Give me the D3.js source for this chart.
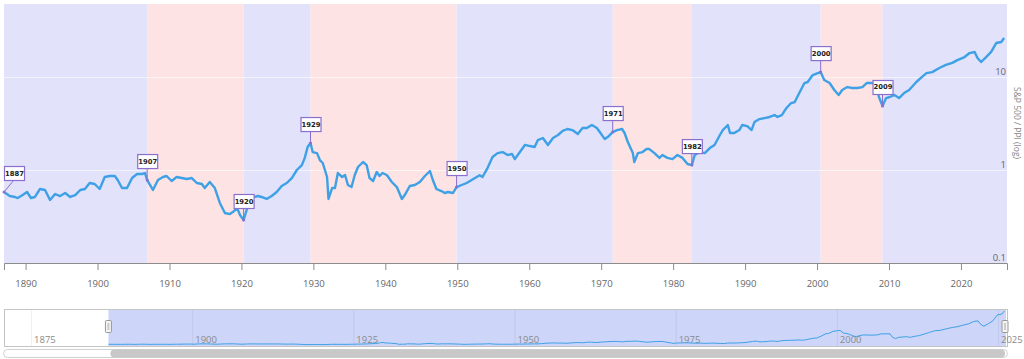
<!DOCTYPE html>
<html>
<head>
<meta charset="utf-8">
<script src="https://cdn.jsdelivr.net/npm/d3@7"></script>
<style>
body { margin: 0; background: #fff; }
svg text { font-family: "Open Sans", sans-serif; }
</style>
</head>
<body>
<div id="chart"></div>
<script>

// S&P 500 / PPI [year, value]
var priceData = [
    [1887.0,0.58],[1887.8,0.525],[1888.5,0.513],[1888.9,0.50],[1889.6,0.538],[1890.2,0.58],[1890.75,0.50],[1891.3,0.513],
    [1892.0,0.625],[1892.7,0.61],[1893.4,0.476],[1894.1,0.552],[1894.8,0.525],[1895.5,0.566],[1896.2,0.513],[1896.9,0.538],
    [1897.6,0.61],[1898.25,0.625],[1898.9,0.725],[1899.6,0.707],[1900.3,0.625],[1901.0,0.841],[1901.7,0.862],[1902.4,0.862],
    [1902.8,0.781],[1903.4,0.64],[1904.1,0.64],[1904.8,0.82],[1905.5,0.906],[1906.2,0.906],[1906.6,0.928],[1906.9,0.78],
    [1907.7,0.61],[1908.4,0.781],[1909.1,0.841],[1909.6,0.862],[1910.3,0.762],[1911.0,0.841],[1911.7,0.82],[1912.4,0.80],
    [1913.1,0.82],[1913.8,0.725],[1914.5,0.707],[1914.9,0.64],[1915.6,0.743],[1916.3,0.64],[1917.0,0.442],[1917.7,0.345],
    [1918.4,0.336],[1918.8,0.353],[1919.4,0.39],[1919.8,0.328],[1920.3,0.29],[1920.9,0.41],[1921.6,0.51],[1922.3,0.525],
    [1922.8,0.513],[1923.5,0.488],[1924.2,0.525],[1924.9,0.58],[1925.6,0.673],[1926.3,0.725],[1927.0,0.82],[1927.7,1.0],
    [1928.4,1.13],[1928.8,1.35],[1929.2,1.77],[1929.6,1.95],[1929.9,1.56],[1930.5,1.52],[1930.9,1.28],[1931.3,1.19],
    [1931.9,0.841],[1932.1,0.488],[1932.6,0.64],[1933.0,0.64],[1933.4,0.928],[1934.0,0.841],[1934.4,0.884],[1934.8,0.69],
    [1935.3,0.656],[1935.75,0.884],[1936.2,1.077],[1936.9,1.22],[1937.4,1.13],[1937.8,0.82],[1938.3,0.762],[1938.8,0.952],
    [1939.2,0.862],[1939.6,0.928],[1940.2,0.884],[1940.9,0.743],[1941.6,0.656],[1942.3,0.488],[1942.7,0.538],[1943.4,0.673],
    [1944.1,0.69],[1944.8,0.743],[1945.5,0.862],[1946.2,0.976],[1946.6,0.781],[1947.1,0.625],[1947.8,0.594],[1948.25,0.566],
    [1948.7,0.58],[1949.4,0.566],[1949.9,0.656],[1950.6,0.69],[1951.3,0.725],[1952.0,0.781],[1952.7,0.841],[1953.1,0.88],
    [1953.5,0.841],[1954.2,1.05],[1954.9,1.38],[1955.6,1.52],[1956.3,1.56],[1957.0,1.45],[1957.6,1.49],[1958.0,1.31],
    [1958.7,1.56],[1959.4,1.86],[1960.1,1.81],[1960.75,1.77],[1961.2,2.10],[1961.9,2.21],[1962.6,1.86],[1963.3,2.21],
    [1964.0,2.38],[1964.65,2.63],[1965.3,2.76],[1966.0,2.69],[1966.75,2.44],[1967.4,2.83],[1968.0,2.83],[1968.7,3.05],
    [1969.4,2.83],[1969.8,2.56],[1970.5,2.15],[1970.9,2.26],[1971.6,2.56],[1972.2,2.69],[1972.9,2.76],[1973.25,2.50],
    [1973.7,2.0],[1974.4,1.52],[1974.6,1.22],[1975.1,1.52],[1975.75,1.56],[1976.3,1.68],[1976.7,1.68],[1977.4,1.52],
    [1978.1,1.35],[1978.5,1.45],[1979.2,1.35],[1979.9,1.31],[1980.6,1.45],[1981.3,1.35],[1982.0,1.16],[1982.6,1.13],
    [1983.0,1.45],[1983.7,1.56],[1984.4,1.52],[1985.1,1.72],[1985.75,1.86],[1986.5,2.38],[1986.9,2.69],[1987.6,3.05],
    [1987.9,2.50],[1988.5,2.50],[1989.2,2.69],[1989.6,3.05],[1990.3,2.97],[1990.9,2.69],[1991.3,3.28],[1992.0,3.53],
    [1992.7,3.62],[1993.4,3.72],[1994.1,3.90],[1994.5,3.72],[1995.1,3.90],[1995.75,4.64],[1996.4,5.25],[1996.9,5.38],
    [1997.6,6.90],[1998.25,8.62],[1998.7,8.84],[1999.4,10.5],[2000.1,11.0],[2000.5,11.3],[2001.0,9.29],[2001.75,8.62],
    [2002.4,7.25],[2003.0,6.40],[2003.5,7.25],[2004.2,7.80],[2004.9,7.62],[2005.6,7.62],[2006.3,7.80],[2006.9,8.62],
    [2007.6,8.62],[2008.25,8.62],[2008.6,6.10],[2009.1,4.88],[2009.6,5.94],[2010.1,6.10],[2010.75,6.40],[2011.4,5.94],
    [2012.1,6.73],[2012.8,7.25],[2013.8,8.84],[2014.4,9.75],[2015.2,11.0],[2016.0,11.3],[2017.0,12.5],[2017.9,13.5],
    [2018.8,14.2],[2019.5,15.2],[2020.5,16.4],[2021.2,18.1],[2021.9,18.6],[2022.3,16.0],[2022.8,14.5],[2023.5,16.4],
    [2024.2,18.6],[2024.9,23.2],[2025.6,23.8],[2026.0,26.3]
];

// turning points (flags) and band types between them
var flagDates = [1887.0, 1906.9, 1920.3, 1929.6, 1949.9, 1971.6, 1982.6, 2000.5, 2009.1];
var flagLabels = ["1887", "1907", "1920", "1929", "1950", "1971", "1982", "2000", "2009"];
var bandTypes = ["bull", "bear", "bull", "bear", "bull", "bear", "bull", "bear", "bull"];

// ticks
var xTicks = [1890, 1900, 1910, 1920, 1930, 1940, 1950, 1960, 1970, 1980, 1990, 2000, 2010, 2020];
var yTicks = [0.1, 1, 10];
var navTicks = [1875, 1900, 1925, 1950, 1975, 2000, 2025];

// init size
var width = 1024;
var height = 359;
var plotLeft = 4, plotRight = 1007, plotTop = 4, plotBottom = 263;
var navTop = 309, navBottom = 346;
var endDate = 2026.4;

// init scales
var x = d3.scaleLinear()
    .domain([1887, endDate])
    .range([plotLeft, plotRight]);

var y = d3.scaleLog()
    .domain([0.1, 61])
    .range([plotBottom, plotTop]);

var navX = d3.scaleLinear()
    .domain([1870.8, endDate])
    .range([plotLeft, plotRight]);

var navY = d3.scaleLinear()
    .domain([0, 27])
    .range([navBottom - 1, navTop + 1]);

var bandColor = { bull: "#e2e2fb", bear: "#fde3e3" };
var lineColor = "#3ea1e6";
var flagColor = "#8a6fcf";

// init svg
var svg = d3.select("#chart")
    .append("svg")
    .attr("width", width)
    .attr("height", height);

svg.append("defs").append("clipPath")
    .attr("id", "plot-clip")
    .append("rect")
    .attr("x", plotLeft)
    .attr("y", plotTop)
    .attr("width", plotRight - plotLeft)
    .attr("height", plotBottom - plotTop);

// background bands
var bandEdges = flagDates.concat([endDate]);
var bands = svg.append("g").attr("class", "bands");

bands.selectAll("rect")
    .data(bandTypes)
    .enter().append("rect")
    .attr("x", (d, i) => x(bandEdges[i]))
    .attr("y", plotTop)
    .attr("width", (d, i) => x(bandEdges[i+1]) - x(bandEdges[i]))
    .attr("height", plotBottom - plotTop)
    .attr("fill", d => bandColor[d]);

// grid lines
svg.append("g")
    .selectAll("line")
    .data(yTicks.slice(1))
    .enter().append("line")
    .attr("x1", plotLeft)
    .attr("x2", plotRight)
    .attr("y1", d => y(d) + 0.5)
    .attr("y2", d => y(d) + 0.5)
    .attr("stroke", "#ffffff")
    .attr("stroke-opacity", 0.6);

// main line
svg.append("path")
    .datum(priceData)
    .attr("clip-path", "url(#plot-clip)")
    .attr("fill", "none")
    .attr("stroke", lineColor)
    .attr("stroke-width", 2.4)
    .attr("stroke-linejoin", "round")
    .attr("d", d3.line().x(d => x(d[0])).y(d => y(d[1])));

// x axis
var xAxis = svg.append("g")
    .attr("transform", "translate(0," + plotBottom + ")")
    .call(d3.axisBottom(x)
        .tickValues(xTicks)
        .tickFormat(d3.format("d"))
        .tickSize(7)
        .tickPadding(10));

xAxis.select(".domain").attr("stroke", "#8c8c8c");
xAxis.selectAll(".tick line").attr("stroke", "#8c8c8c");
xAxis.selectAll(".tick text")
    .attr("fill", "#666")
    .style("font-size", "9.5px");

// y axis labels (inside, right)
svg.append("g")
    .selectAll("text")
    .data(yTicks)
    .enter().append("text")
    .attr("x", plotRight - 1)
    .attr("y", d => y(d) - 2)
    .attr("text-anchor", "end")
    .attr("fill", "#666")
    .style("font-size", "9.5px")
    .text(d => d);

svg.append("text")
    .attr("transform", "translate(1016,123) rotate(90)")
    .attr("text-anchor", "middle")
    .attr("dominant-baseline", "middle")
    .attr("fill", "#888")
    .style("font-size", "8.5px")
    .text("S&P 500 / PPI (log)");

// flags
var nearest = d3.bisector(d => d[0]).center;

var flags = svg.append("g")
    .attr("class", "flags")
    .selectAll("g")
    .data(flagDates)
    .enter().append("g");

flags.each(function(date, i) {
    var point = priceData[nearest(priceData, date)];
    var px = x(point[0]);
    var py = y(point[1]);
    var bw = 20, bh = 14;
    var bx = Math.max(plotLeft, px - bw/2);
    var by = py - 12 - bh;
    var g = d3.select(this);

    g.append("line")
        .attr("x1", bx + bw/2)
        .attr("y1", by + bh)
        .attr("x2", px)
        .attr("y2", py)
        .attr("stroke", flagColor)
        .attr("stroke-width", 1);

    g.append("circle")
        .attr("cx", px)
        .attr("cy", py)
        .attr("r", 1.5)
        .attr("fill", flagColor);

    g.append("rect")
        .attr("x", bx + 0.5)
        .attr("y", by + 0.5)
        .attr("width", bw)
        .attr("height", bh)
        .attr("fill", "#fff")
        .attr("stroke", flagColor)
        .attr("stroke-width", 1.2);

    g.append("text")
        .attr("x", bx + bw/2 + 0.5)
        .attr("y", by + bh/2 + 0.5)
        .attr("text-anchor", "middle")
        .attr("dominant-baseline", "central")
        .attr("fill", "#222")
        .style("font-family", "'DejaVu Sans', sans-serif")
        .style("font-weight", "bold")
        .style("font-size", "6.8px")
        .text(flagLabels[i]);
});

// navigator
var nav = svg.append("g").attr("class", "navigator");

nav.append("rect")
    .attr("x", plotLeft + 0.5)
    .attr("y", navTop + 0.5)
    .attr("width", plotRight - plotLeft)
    .attr("height", navBottom - navTop)
    .attr("fill", "#fff")
    .attr("stroke", "#c4c4c4");

nav.append("rect")
    .attr("x", navX(1887))
    .attr("y", navTop + 1)
    .attr("width", navX(endDate) - navX(1887) - 1)
    .attr("height", navBottom - navTop - 1)
    .attr("fill", "#cdd5f8");

nav.selectAll("line.grid")
    .data(navTicks)
    .enter().append("line")
    .attr("class", "grid")
    .attr("x1", d => navX(d) + 0.5)
    .attr("x2", d => navX(d) + 0.5)
    .attr("y1", navTop + 1)
    .attr("y2", navBottom)
    .attr("stroke", "#000")
    .attr("stroke-opacity", 0.06);

nav.selectAll("text")
    .data(navTicks)
    .enter().append("text")
    .attr("x", d => navX(d) + 3)
    .attr("y", navBottom - 3)
    .attr("fill", "#8a8a8a")
    .style("font-size", "9.5px")
    .text(d => d);

nav.append("path")
    .datum(priceData)
    .attr("fill", "none")
    .attr("stroke", lineColor)
    .attr("stroke-width", 1)
    .attr("d", d3.line().x(d => navX(d[0])).y(d => navY(d[1])));

// grips
[navX(1887), navX(endDate) - 2].forEach(function(gx) {
    nav.append("rect")
        .attr("x", gx - 3)
        .attr("y", 320.5)
        .attr("width", 6)
        .attr("height", 12)
        .attr("rx", 1)
        .attr("fill", "#f4f4f4")
        .attr("stroke", "#999");
    nav.append("rect")
        .attr("x", gx - 1)
        .attr("y", 323)
        .attr("width", 2)
        .attr("height", 7)
        .attr("fill", "#ccc");
});

// scrollbar
nav.append("rect")
    .attr("x", 3.5)
    .attr("y", 349.5)
    .attr("width", plotRight - 3)
    .attr("height", 8)
    .attr("rx", 4)
    .attr("fill", "#fff")
    .attr("stroke", "#d0d0d0");

nav.append("rect")
    .attr("x", navX(1887) + 2)
    .attr("y", 349.5)
    .attr("width", navX(endDate) - navX(1887) - 4)
    .attr("height", 8)
    .attr("rx", 4)
    .attr("fill", "#c8c8c8");

</script>
</body>
</html>
